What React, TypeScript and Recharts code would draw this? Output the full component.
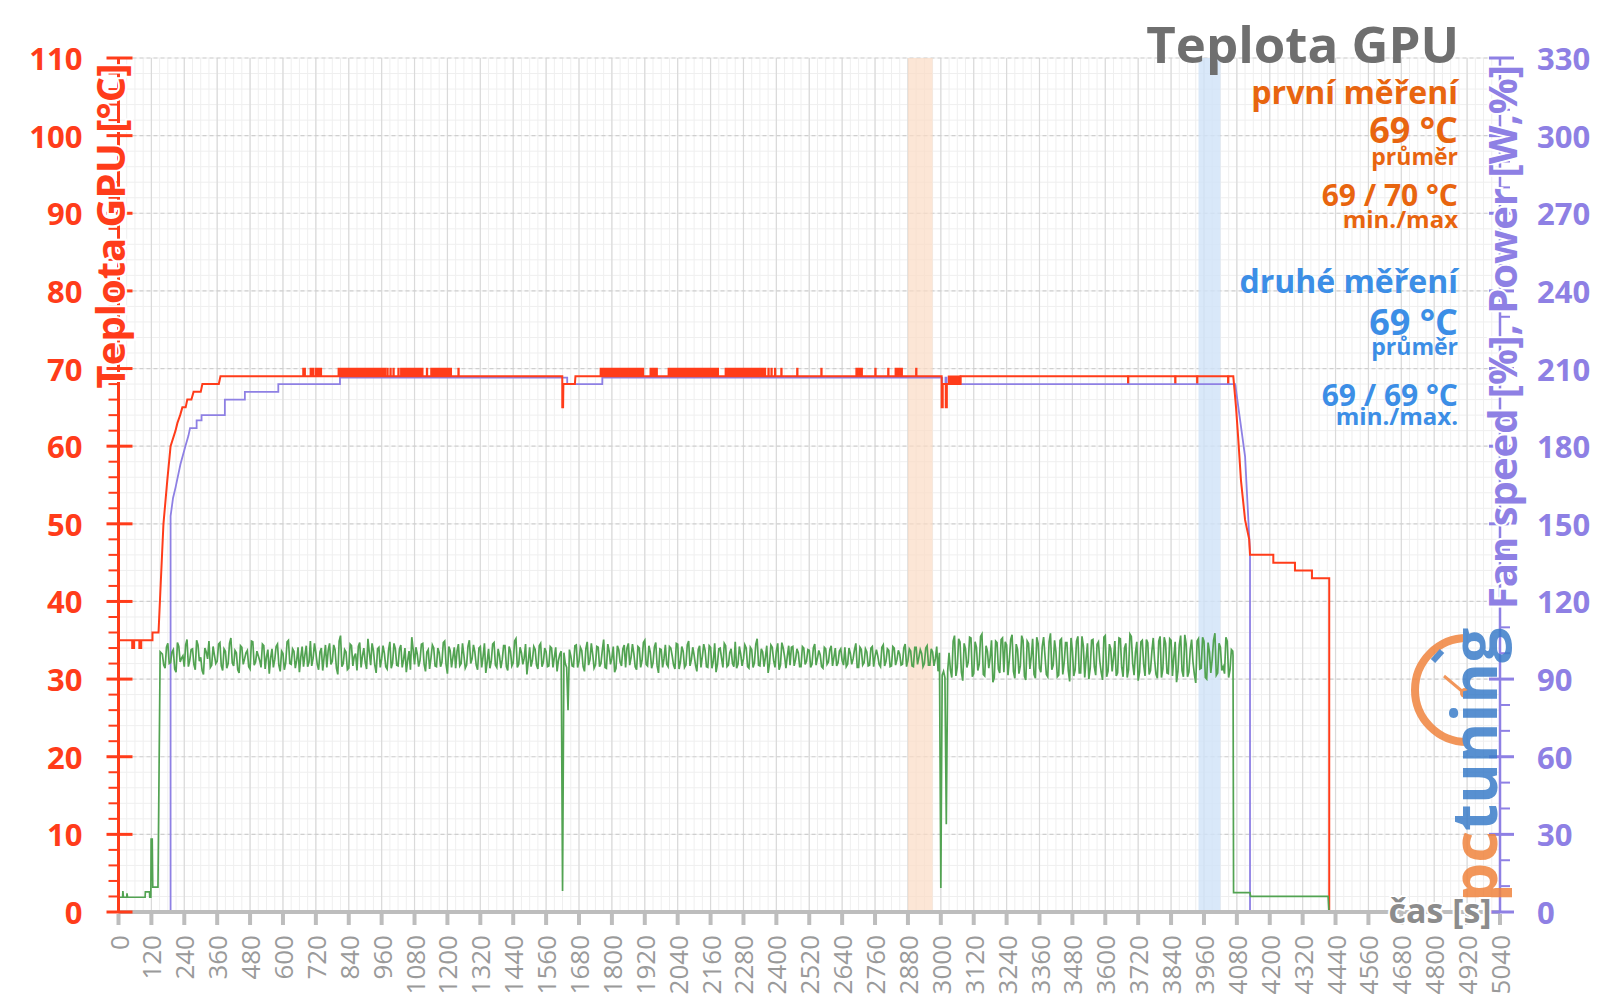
import React from 'react';
import { LineChart, Line, XAxis, YAxis, CartesianGrid, ReferenceArea } from 'recharts';

// ---------- data ----------
const xTicks = Array.from({ length: 43 }, (_, i) => i * 120);
const leftTicks = Array.from({ length: 56 }, (_, i) => i * 2);
const rightTicks = Array.from({ length: 34 }, (_, i) => i * 10);
const hMinor = leftTicks;
const hMajor = [0, 10, 20, 30, 40, 50, 60, 70, 80, 90, 100, 110];
const vMinor = Array.from({ length: 169 }, (_, i) => i * 30);
const vMajor = xTicks;

// GPU temperature (first measurement), left axis [°C]
const redPath: [number, number][] = [
  [0, 35], [50, 35], [50, 34], [57, 34], [57, 35], [76, 35], [76, 34], [83, 34], [83, 35],
  [124, 35], [124, 36], [146, 36], [153, 41.5], [164, 50], [178, 55.6], [190, 60], [208, 62],
  [215, 63], [225, 64], [233, 65], [245, 65], [251, 66], [266, 66], [274, 67], [300, 67],
  [306, 68], [366, 68], [372, 69], [1619, 69], [1619, 65], [1622, 65], [1623, 68], [1665, 68],
  [1667, 69], [3003, 69], [3003, 65], [3007, 65], [3007, 68], [3018, 68], [3018, 65], [3022, 65],
  [3022, 68], [3072, 68], [3072, 69], [4067, 69], [4077, 65], [4085, 61], [4095, 55.6],
  [4110, 50.5], [4125, 48], [4128, 46], [4213, 46], [4213, 45], [4292, 45], [4292, 44],
  [4354, 44], [4354, 43], [4417, 43], [4417, 0],
];
// intervals where the temperature flickers between 69 and 70 °C
const red70Marks: [number, number][] = [
  [673, 681], [700, 711], [718, 740], [802, 975], [980, 983], [991, 994], [1002, 1005],
  [1020, 1023], [1030, 1110], [1124, 1127], [1140, 1214], [1239, 1242], [1758, 1915],
  [1940, 1965], [2006, 2188], [2214, 2360], [2370, 2373], [2381, 2384], [2394, 2397],
  [2417, 2420], [2475, 2478], [2563, 2566], [2691, 2713], [2760, 2763], [2807, 2810],
  [2834, 2859], [2909, 2912],
];
// intervals where it flickers between 68 and 69 °C
const red68Marks: [number, number][] = [
  [3028, 3072], [3682, 3685], [3854, 3857], [3934, 3937], [4047, 4050],
];

// power, right axis
const purplePath: [number, number][] = [
  [0, 0], [190, 0], [190, 153], [199, 160], [208, 164], [226, 173], [244, 180], [255, 184],
  [261, 187], [285, 187], [285, 190], [303, 190], [303, 192], [388, 192], [388, 198],
  [461, 198], [461, 201], [583, 201], [583, 204], [808, 204], [808, 206.5], [1637, 206.5],
  [1637, 204], [1765, 204], [1765, 206.5], [3005, 206.5], [3005, 204], [3017, 204],
  [3017, 206.5], [3021, 206.5], [3021, 204], [4074, 204], [4092, 190], [4110, 176],
  [4128, 139], [4128, 0], [4413, 0],
];

// green series, left axis
const greenStart: [number, number][] = [
  [0, 1.9], [15, 1.9], [16, 2.7], [18, 1.9], [30, 1.9], [31, 2.4], [33, 1.9], [97, 1.9],
  [98, 2.6], [113, 2.6], [114, 1.9], [118, 1.9], [119, 9.5], [121, 4], [123, 9.5], [125, 3.2],
  [144, 3.2], [152, 33.5],
];
const greenNoiseStart = 160;
const greenNoiseStep = 10;
// samples at 160, 170, 180 ... 4060 s
const greenNoise: number[] = [
  33.2, 31.4, 34.6, 32.1, 33.8, 30.9, 34.2, 32.7, 31.6, 35.1, 32.4, 33.9, 31.2, 34.4, 32.8, 30.6, 33.5, 34.9, 31.8, 33.1,
  32.3, 34.7, 31.1, 33.6, 32.0, 35.3, 31.7, 33.4, 30.8, 34.1, 32.6, 33.7, 31.3, 34.8, 32.2, 33.0, 31.5, 34.3, 32.9, 30.7,
  33.9, 32.5, 34.5, 31.0, 33.3, 32.1, 35.0, 31.9, 33.6, 32.4, 30.9, 34.2, 33.1, 31.6, 34.9, 32.7, 33.4, 31.2, 34.0, 32.8,
  31.5, 34.6, 32.3, 33.8, 30.6, 35.6, 32.0, 33.5, 31.4, 34.3, 32.9, 31.1, 34.7, 33.0, 32.2, 35.2, 31.8, 33.7, 30.8, 34.1,
  32.6, 33.3, 31.3, 34.8, 32.1, 33.9, 31.7, 34.4, 32.5, 30.9, 33.6, 35.4, 31.9, 33.2, 32.4, 34.6, 31.0, 33.8, 32.7, 34.0,
  31.6, 33.4, 32.2, 34.9, 30.7, 33.7, 32.8, 31.4, 34.5, 32.0, 33.1, 31.8, 35.0, 32.6, 33.5, 31.2, 34.2, 32.9, 30.8, 33.9,
  32.3, 34.7, 31.5, 33.0, 32.5, 34.3, 31.1, 33.6, 32.1, 35.2, 31.9, 33.4, 32.7, 30.6, 34.1, 32.4, 33.8, 31.3, 34.6, 32.2,
  33.5, 31.7, 34.0, 32.8, 31.0, 33.2,
  2.7, 32.0, 26.0,
  33.0, 31.6, 34.4, 32.3, 33.7, 31.0, 34.8, 32.5, 33.2, 31.8, 34.1, 32.0, 35.1, 31.4, 33.6, 32.7, 30.9, 34.3, 32.2, 33.9,
  31.5, 34.6, 32.8, 33.3, 31.2, 34.0, 32.4, 35.0, 31.7, 33.5, 32.1, 34.7, 30.8, 33.8, 32.6, 31.9, 34.2, 33.0, 31.3, 34.5,
  32.2, 33.6, 31.8, 34.9, 32.5, 33.1, 31.0, 34.3, 32.9, 33.7, 31.5, 34.1, 32.3, 30.9, 33.9, 32.7, 34.6, 31.6, 33.4, 32.0,
  34.8, 31.9, 33.2, 32.6, 34.0, 31.4, 33.8, 32.1, 35.2, 31.7, 33.5, 32.8, 30.8, 34.4, 32.4, 33.6, 31.2, 34.7, 32.9, 33.0,
  31.8, 34.2, 32.5, 33.4, 31.6, 34.0, 32.3, 33.7, 31.9, 34.5, 32.7, 33.1, 31.4, 33.9, 32.2, 34.3, 32.8, 31.7, 33.6, 32.4,
  34.1, 31.9, 33.3, 32.6, 34.6, 31.5, 33.8, 32.1, 33.5, 31.8, 34.2, 32.9, 33.0, 31.6, 34.4, 32.3, 33.7, 31.7, 34.0, 32.5,
  33.2, 31.9, 34.5, 32.4, 33.6, 31.6, 34.1, 32.8, 33.3, 32.0, 34.3, 31.8, 33.5, 32.6, 31.0,
  3.1, 31.0, 11.3,
  33.4, 30.2, 35.6, 31.5, 34.8, 29.8, 33.9, 32.2, 35.3, 30.7, 34.1, 31.9, 35.8, 30.4, 33.6, 32.8, 29.6, 34.9, 31.3, 35.1,
  30.9, 34.4, 32.5, 35.7, 30.1, 33.8, 31.7, 35.0, 29.9, 34.6, 32.9, 30.6, 35.4, 31.4, 34.2, 33.0, 30.3, 35.9, 31.8, 33.5,
  30.5, 35.2, 32.1, 34.7, 29.7, 33.7, 31.2, 35.5, 30.8, 34.3, 32.6, 30.0, 35.0, 31.6, 34.5, 32.3, 29.9, 35.6, 31.0, 33.9,
  32.7, 30.4, 35.3, 31.5, 34.0, 30.2, 35.8, 32.0, 33.4, 29.8, 34.8, 31.9, 35.1, 30.6, 33.6, 32.4, 30.1, 35.5, 31.3, 34.6,
  30.7, 35.0, 32.8, 29.6, 34.4, 31.1, 35.7, 30.3, 33.8, 32.2, 29.5, 35.2, 31.4, 34.9, 30.0, 33.5, 32.5, 35.9, 30.8, 34.1,
  31.6, 35.4, 30.2, 33.8,
];
// samples in between, at 165, 175, 185 ... 4065 s
const greenNoiseMid: number[] = [
  31.8, 34.1, 32.0, 33.5, 31.3, 34.7, 32.2, 33.0, 34.4, 31.6, 33.8, 31.9, 35.0, 32.3, 31.1, 34.0, 32.6, 31.5, 34.2, 32.0,
  34.5, 31.7, 33.9, 31.4, 34.6, 32.1, 33.7, 31.2, 34.3, 31.9, 33.4, 31.6, 34.9, 31.8, 33.6, 32.4, 34.5, 31.3, 33.8, 32.7,
  31.5, 34.2, 31.8, 33.6, 31.2, 34.8, 32.0, 33.9, 31.4, 34.1, 32.8, 31.6, 34.3, 32.2, 31.7, 34.6, 31.9, 33.5, 31.1, 34.4,
  33.7, 31.9, 34.4, 31.4, 34.9, 31.6, 33.8, 31.2, 34.5, 31.7, 33.3, 34.2, 31.5, 34.0, 31.3, 33.4, 34.6, 31.8, 33.9, 31.5,
  34.3, 31.6, 33.7, 31.4, 34.6, 31.8, 33.9, 31.5, 34.0, 32.4, 31.2, 33.8, 34.1, 31.6, 34.5, 31.9, 33.5, 31.3, 34.4, 31.7,
  34.0, 31.6, 34.7, 31.9, 34.2, 31.5, 34.1, 33.6, 31.7, 34.6, 31.4, 34.2, 32.0, 34.4, 31.8, 34.0, 31.5, 34.6, 32.2, 31.4,
  34.5, 31.8, 33.9, 31.4, 34.3, 31.6, 34.2, 31.7, 34.9, 31.5, 34.1, 31.9, 34.5, 32.3, 31.6, 34.2, 31.8, 34.3, 31.6, 34.0,
  31.6, 34.2, 31.5, 34.1, 32.4, 33.6,
  33.4, 31.5, 33.8,
  31.7, 34.3, 31.5, 34.1, 31.6, 33.9, 31.8, 34.6, 31.4, 34.2, 31.6, 33.7, 31.5, 34.5, 31.9, 34.2, 31.4, 33.8, 31.7, 34.4,
  34.0, 31.8, 34.5, 31.6, 34.2, 31.5, 34.7, 31.9, 34.3, 31.4, 34.1, 31.7, 33.9, 31.5, 34.4, 31.6, 34.0, 31.8, 34.6, 31.3,
  34.2, 31.5, 34.4, 31.7, 34.1, 31.8, 33.8, 31.5, 34.5, 31.6, 34.3, 31.4, 34.6, 31.9, 34.0, 31.5, 34.3, 31.8, 33.9, 31.6,
  31.4, 34.2, 31.7, 34.4, 31.6, 34.1, 31.5, 34.5, 31.8, 33.9, 31.6, 34.3, 32.0, 34.1, 31.5, 34.6, 31.8, 34.0, 31.4, 34.3,
  34.1, 31.7, 33.9, 31.6, 34.2, 31.9, 33.8, 31.5, 34.0, 31.8, 33.7, 31.6, 34.1, 31.9, 33.8, 31.7, 34.0, 32.1, 33.9, 31.8,
  31.6, 34.0, 31.9, 33.8, 31.5, 34.1, 31.8, 33.9, 31.7, 34.0, 31.6, 33.8, 31.9, 34.1, 31.7, 33.9, 31.6, 34.2, 31.8, 33.7,
  31.8, 34.0, 31.6, 33.9, 31.7, 34.1, 31.9, 33.8, 31.6, 34.0, 31.8, 33.9, 31.7, 34.2, 33.4,
  30.5, 30.2, 31.0,
  31.2, 34.9, 30.4, 35.2, 30.9, 34.6, 31.5, 35.4, 30.3, 34.8, 31.1, 35.5, 30.6, 34.3, 31.4, 35.0, 30.2, 34.7, 30.8, 35.3,
  34.8, 30.5, 35.1, 31.0, 34.5, 30.7, 35.6, 30.4, 34.9, 31.3, 35.2, 30.1, 34.6, 30.9, 35.4, 30.6, 34.8, 31.2, 35.0, 30.3,
  35.0, 30.6, 34.7, 31.1, 35.3, 30.4, 34.9, 30.8, 35.5, 30.2, 34.6, 31.4, 35.1, 30.5, 34.8, 30.9, 35.4, 30.3, 34.5, 31.0,
  34.9, 30.8, 35.2, 30.3, 34.6, 31.2, 35.5, 30.5, 34.8, 30.9, 35.0, 30.4, 34.7, 31.1, 35.3, 30.6, 34.9, 30.2, 35.4, 30.8,
  35.2, 30.4, 34.8, 31.0, 35.6, 30.3, 34.5, 30.9, 35.1, 30.6, 34.9, 31.3, 35.4, 30.2, 34.7, 30.8, 35.0, 30.5, 34.6, 31.1,
  30.7, 34.9, 31.2, 33.6,
];
const greenEnd: [number, number][] = [
  [4066, 33], [4068, 2.5], [4128, 2.5], [4130, 2.0], [4413, 2.0], [4416, 0], [4627, 0],
];

const orangeBand: [number, number] = [2880, 2970];
const blueBand: [number, number] = [3940, 4020];

// ---------- styling ----------
const RED = '#ff3c1a';
const PURPLE = '#8e80e4';
const GREEN = '#52a352';
const ORANGE_TXT = '#e8650f';
const BLUE_TXT = '#3c8ee6';
const GRAY_AX = '#bdbdbd';
const FONT = '"Open Sans", "DejaVu Sans", sans-serif';

const toObj = (arr: [number, number][]) => arr.map(([t, v]) => ({ t, v }));
const redData = toObj(redPath);
const purpleData = toObj(purplePath);
const noisePts: { t: number; v: number }[] = [];
greenNoise.forEach((v, i) => {
  noisePts.push({ t: greenNoiseStart + i * greenNoiseStep, v });
  if (i < greenNoiseMid.length) noisePts.push({ t: greenNoiseStart + i * greenNoiseStep + greenNoiseStep / 2, v: greenNoiseMid[i] });
});
const greenData = [...toObj(greenStart), ...noisePts, ...toObj(greenEnd)];

const LeftTick = (props: any) => {
  const { x, y, payload } = props;
  const v = payload.value;
  const major = v % 10 === 0;
  return (
    <g>
      {major ? (
        <line x1={x - 12} x2={x + 14} y1={y} y2={y} stroke={RED} strokeWidth={3} />
      ) : (
        <line x1={x - 10} x2={x} y1={y} y2={y} stroke={RED} strokeWidth={2} />
      )}
      {major && (
        <text x={x - 36} y={y} textAnchor="end" dominantBaseline="central" fontFamily={FONT}
          fontWeight={700} fontSize={31} fill={RED}>{v}</text>
      )}
    </g>
  );
};

const RightTick = (props: any) => {
  const { x, y, payload } = props;
  const v = payload.value;
  const major = v % 30 === 0;
  return (
    <g>
      {major ? (
        <line x1={x - 11} x2={x + 14} y1={y} y2={y} stroke={PURPLE} strokeWidth={3} />
      ) : (
        <line x1={x} x2={x + 10} y1={y} y2={y} stroke={PURPLE} strokeWidth={2} />
      )}
      {major && (
        <text x={x + 37} y={y} textAnchor="start" dominantBaseline="central" fontFamily={FONT}
          fontWeight={700} fontSize={31} fill={PURPLE}>{v}</text>
      )}
    </g>
  );
};

const XTick = (props: any) => {
  const { x, y, payload } = props;
  const ty = y + 23;
  return (
    <g>
      <line x1={x} x2={x} y1={y + 2} y2={y + 13} stroke={GRAY_AX} strokeWidth={4} />
      <text x={x} y={ty} transform={`rotate(-90 ${x} ${ty})`} textAnchor="end"
        dominantBaseline="central" fontFamily={FONT} fontSize={26} fill="#9a9a9a">{payload.value}</text>
    </g>
  );
};

const annStyle = { fontFamily: FONT, fontWeight: 700 } as const;

export default function App() {
  return (
    <div style={{ position: 'absolute', left: 0, top: 0, width: 1600, height: 1007, background: '#fff', overflow: 'hidden' }}>
      <LineChart width={1600} height={1007} margin={{ top: 58, right: 40, bottom: 35, left: 58.5 }}>
        <CartesianGrid yAxisId="left" horizontal={false} verticalValues={vMinor} stroke="#efefef" strokeWidth={1} />
        <CartesianGrid yAxisId="left" vertical={false} horizontalValues={hMinor} stroke="#efefef" strokeWidth={1} />
        <CartesianGrid yAxisId="left" horizontal={false} verticalValues={vMajor} stroke="#dadada" strokeWidth={1.2} />
        <CartesianGrid yAxisId="left" vertical={false} horizontalValues={hMajor} stroke="#cfcfcf" strokeWidth={1.2} strokeDasharray="4 3" />
        <XAxis type="number" dataKey="t" domain={[0, 5040]} ticks={xTicks} interval={0} allowDataOverflow
          tickSize={0} tickMargin={0} tickLine={false} tick={(p: any) => <XTick {...p} />}
          axisLine={{ stroke: GRAY_AX, strokeWidth: 4 }} height={60} />
        <YAxis yAxisId="left" orientation="left" type="number" domain={[0, 110]} ticks={leftTicks} interval={0}
          allowDataOverflow tickSize={0} tickMargin={0} tickLine={false} tick={(p: any) => <LeftTick {...p} />}
          axisLine={{ stroke: RED, strokeWidth: 3 }} width={60} />
        <YAxis yAxisId="right" orientation="right" type="number" domain={[0, 330]} ticks={rightTicks} interval={0}
          allowDataOverflow tickSize={0} tickMargin={0} tickLine={false} tick={(p: any) => <RightTick {...p} />}
          axisLine={{ stroke: PURPLE, strokeWidth: 2.5 }} width={60} />
        <ReferenceArea yAxisId="left" x1={orangeBand[0]} x2={orangeBand[1]} fill="#fbdcc4" fillOpacity={0.7} stroke="none" />
        <ReferenceArea yAxisId="left" x1={blueBand[0]} x2={blueBand[1]} fill="#cfe2f7" fillOpacity={0.8} stroke="none" />
        {red70Marks.map(([a, b], i) => (
          <ReferenceArea key={'r70' + i} yAxisId="left" x1={a} x2={b} y1={69} y2={70} fill={RED} fillOpacity={1} stroke={RED} strokeWidth={1.5} />
        ))}
        {red68Marks.map(([a, b], i) => (
          <ReferenceArea key={'r68' + i} yAxisId="left" x1={a} x2={b} y1={68} y2={69} fill={RED} fillOpacity={1} stroke={RED} strokeWidth={1.5} />
        ))}
        <Line yAxisId="right" data={purpleData} dataKey="v" type="linear" stroke={PURPLE} strokeWidth={1.8}
          dot={false} activeDot={false} isAnimationActive={false} />
        <Line yAxisId="left" data={redData} dataKey="v" type="linear" stroke={RED} strokeWidth={2}
          dot={false} activeDot={false} isAnimationActive={false} />
        <Line yAxisId="left" data={greenData} dataKey="v" type="linear" stroke={GREEN} strokeWidth={1.7}
          dot={false} activeDot={false} isAnimationActive={false} />
      </LineChart>
      <svg width={1600} height={1007} style={{ position: 'absolute', left: 0, top: 0, pointerEvents: 'none' }}>
        {/* logo */}
        <g opacity={0.85}>
          <path d="M 1467 638 A 52 52 0 0 0 1467 742" fill="none" stroke="#f0843e" strokeWidth={8} />
          <line x1={1433} y1={661} x2={1442} y2={651} stroke="#3b7dc9" strokeWidth={6} />
          <line x1={1444} y1={676} x2={1463} y2={692} stroke="#f0843e" strokeWidth={3} />
          <circle cx={1465} cy={693} r={5} fill="#f0843e" />
          <text transform="translate(1497 902) rotate(-90)" fontFamily={FONT} fontWeight={700} fontSize={62}>
            <tspan fill="#f0843e">pc</tspan><tspan fill="#3b7dc9">tuning</tspan>
          </text>
        </g>
        {/* axis titles */}
        <text transform="translate(125 226) rotate(-90)" textAnchor="middle" {...annStyle} fontSize={40} fill={RED}
          stroke="#fff" strokeWidth={4} paintOrder="stroke">Teplota GPU [°C]</text>
        <text transform="translate(1517 337) rotate(-90)" textAnchor="middle" {...annStyle} fontSize={40} fill={PURPLE}
          stroke="#fff" strokeWidth={4} paintOrder="stroke">Fan speed [%], Power [W,%]</text>
        <text x={1440} y={923} textAnchor="middle" {...annStyle} fontSize={34} fill="#8c8c8c"
          stroke="#fff" strokeWidth={4} paintOrder="stroke">čas [s]</text>
        {/* title and stats */}
        <text x={1459} y={63} textAnchor="end" {...annStyle} fontSize={51} fill="#6f6f6f">Teplota GPU</text>
        <text x={1458} y={104} textAnchor="end" {...annStyle} fontSize={32} fill={ORANGE_TXT}>první měření</text>
        <text x={1458} y={143} textAnchor="end" {...annStyle} fontSize={36} fill={ORANGE_TXT}>69 °C</text>
        <text x={1458} y={165} textAnchor="end" {...annStyle} fontSize={23} fill={ORANGE_TXT}>průměr</text>
        <text x={1458} y={206} textAnchor="end" {...annStyle} fontSize={30} fill={ORANGE_TXT}>69 / 70 °C</text>
        <text x={1458} y={228} textAnchor="end" {...annStyle} fontSize={24} fill={ORANGE_TXT}>min./max</text>
        <text x={1458} y={293} textAnchor="end" {...annStyle} fontSize={32} fill={BLUE_TXT}>druhé měření</text>
        <text x={1458} y={335} textAnchor="end" {...annStyle} fontSize={36} fill={BLUE_TXT}>69 °C</text>
        <text x={1458} y={355} textAnchor="end" {...annStyle} fontSize={23} fill={BLUE_TXT}>průměr</text>
        <text x={1458} y={406} textAnchor="end" {...annStyle} fontSize={30} fill={BLUE_TXT}>69 / 69 °C</text>
        <text x={1458} y={425} textAnchor="end" {...annStyle} fontSize={24} fill={BLUE_TXT}>min./max.</text>
      </svg>
    </div>
  );
}
